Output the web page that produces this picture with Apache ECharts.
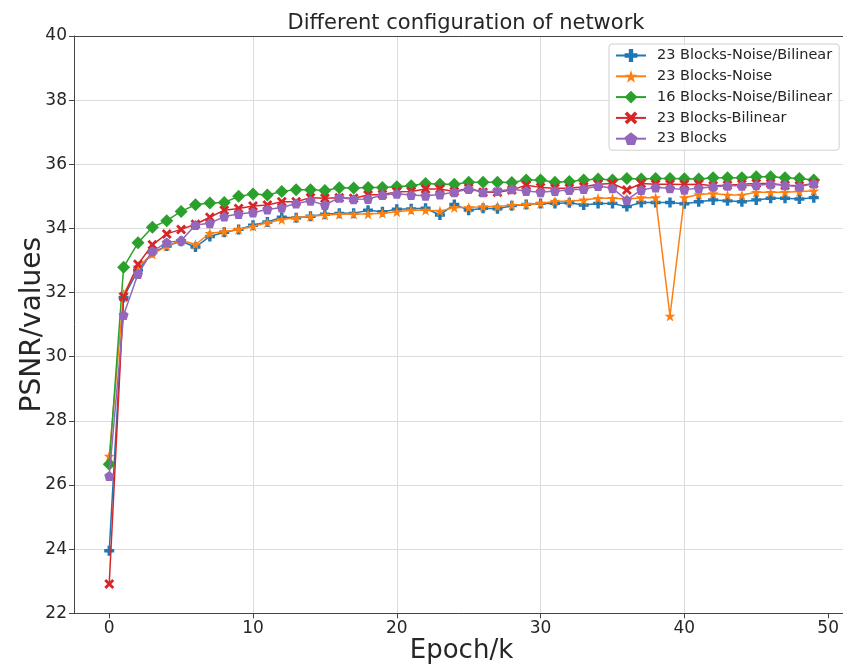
<!DOCTYPE html>
<html>
<head>
<meta charset="utf-8">
<script src="https://cdn.jsdelivr.net/npm/echarts@6/dist/echarts.min.js"></script>
<style>html,body{margin:0;padding:0;background:#fff}#c{width:843px;height:664px}</style>
</head>
<body>
<div id="c"></div>
<script>
var epochs = [];
for (var i = 0; i < 50; i++) epochs.push(i);

var seriesNames = ["23 Blocks-Noise/Bilinear", "23 Blocks-Noise", "16 Blocks-Noise/Bilinear", "23 Blocks-Bilinear", "23 Blocks"];

var blocks23NoiseBilinear = [23.95, 31.85, 32.70, 33.25, 33.45, 33.60, 33.42, 33.75, 33.88, 33.97,
  34.10, 34.20, 34.35, 34.33, 34.38, 34.44, 34.47, 34.47, 34.57, 34.52,
  34.60, 34.61, 34.63, 34.42, 34.75, 34.57, 34.63, 34.61, 34.71, 34.75,
  34.78, 34.78, 34.80, 34.73, 34.78, 34.78, 34.68, 34.81, 34.81, 34.81,
  34.77, 34.83, 34.89, 34.86, 34.83, 34.89, 34.94, 34.94, 34.92, 34.96];

var blocks23Noise = [26.90, 31.95, 32.80, 33.20, 33.45, 33.63, 33.50, 33.85, 33.90, 33.97,
  34.07, 34.18, 34.28, 34.33, 34.38, 34.42, 34.44, 34.45, 34.45, 34.47,
  34.52, 34.57, 34.57, 34.54, 34.65, 34.65, 34.68, 34.68, 34.73, 34.75,
  34.78, 34.85, 34.85, 34.89, 34.94, 34.94, 34.92, 34.96, 34.96, 31.27,
  34.96, 35.06, 35.09, 35.04, 35.04, 35.13, 35.13, 35.13, 35.15, 35.17];

var blocks16NoiseBilinear = [26.65, 32.79, 33.55, 34.04, 34.24, 34.53, 34.74, 34.79, 34.81, 35.00,
  35.07, 35.04, 35.15, 35.21, 35.21, 35.18, 35.27, 35.26, 35.28, 35.28,
  35.30, 35.33, 35.40, 35.38, 35.38, 35.44, 35.44, 35.44, 35.43, 35.51,
  35.51, 35.44, 35.46, 35.51, 35.54, 35.51, 35.56, 35.54, 35.56, 35.56,
  35.55, 35.54, 35.58, 35.58, 35.58, 35.61, 35.61, 35.58, 35.56, 35.51];

var blocks23Bilinear = [22.91, 31.87, 32.88, 33.49, 33.83, 33.97, 34.13, 34.35, 34.57, 34.62,
  34.70, 34.73, 34.83, 34.83, 34.96, 34.94, 34.96, 34.94, 35.04, 35.06,
  35.14, 35.15, 35.23, 35.23, 35.15, 35.25, 35.13, 35.13, 35.20, 35.35,
  35.28, 35.25, 35.25, 35.30, 35.38, 35.40, 35.20, 35.40, 35.38, 35.38,
  35.37, 35.38, 35.33, 35.35, 35.38, 35.40, 35.40, 35.35, 35.33, 35.40];

var blocks23 = [26.28, 31.30, 32.58, 33.29, 33.56, 33.62, 34.11, 34.16, 34.37, 34.45,
  34.50, 34.59, 34.65, 34.78, 34.86, 34.73, 34.96, 34.91, 34.92, 35.04,
  35.08, 35.04, 35.02, 35.06, 35.13, 35.23, 35.13, 35.17, 35.22, 35.17,
  35.13, 35.17, 35.20, 35.23, 35.32, 35.25, 34.89, 35.20, 35.28, 35.25,
  35.21, 35.25, 35.30, 35.33, 35.33, 35.35, 35.38, 35.35, 35.30, 35.40];

var xTicks = [0, 10, 20, 30, 40, 50];

var colors = ['#1f77b4', '#ff7f0e', '#2ca02c', '#d62728', '#9467bd'];
var symbols = [
  'path://M3.3,0 L6.7,0 L6.7,3.3 L10,3.3 L10,6.7 L6.7,6.7 L6.7,10 L3.3,10 L3.3,6.7 L0,6.7 L0,3.3 L3.3,3.3 Z',
  'path://M50,0 L61.2,34.6 L97.6,34.5 L68.1,55.9 L79.4,90.5 L50,69 L20.6,90.5 L31.9,55.9 L2.4,34.5 L38.8,34.6 Z',
  'diamond',
  'path://M0,2 L2,0 L5,3 L8,0 L10,2 L7,5 L10,8 L8,10 L5,7 L2,10 L0,8 L3,5 Z',
  'path://M50,0 L97.6,34.5 L79.4,90.5 L20.6,90.5 L2.4,34.5 Z'
];
var sizes = [10, 11, 13, 10, 10];
var dataSets = [blocks23NoiseBilinear, blocks23Noise, blocks16NoiseBilinear, blocks23Bilinear, blocks23];

var series = dataSets.map(function (d, k) {
  return {
    name: seriesNames[k],
    type: 'line',
    xAxisIndex: 0,
    data: d.map(function (v, i) { return [epochs[i], v]; }),
    symbol: symbols[k],
    symbolSize: sizes[k],
    showAllSymbol: true,
    lineStyle: { color: colors[k], width: 1.5 },
    itemStyle: { color: colors[k] },
    z: 2 + k
  };
});

var font = 'DejaVu Sans';
var chart = echarts.init(document.getElementById('c'), null, { renderer: 'canvas' });
chart.setOption({
  animation: false,
  backgroundColor: '#fff',
  color: colors,
  title: {
    text: 'Different configuration of network',
    left: 461, top: 8, textAlign: 'center',
    textStyle: { fontFamily: font, fontSize: 21, fontWeight: 'normal', color: '#262626' }
  },
  legend: {
    orient: 'vertical',
    left: 609, top: 44,
    padding: [4, 7, 4, 6],
    itemWidth: 30, itemHeight: 16, itemGap: 5.8,
    borderColor: '#d0d0d0', borderWidth: 1, borderRadius: 3,
    backgroundColor: 'rgba(255,255,255,0.8)',
    textStyle: { fontFamily: font, fontSize: 14.5, color: '#262626', padding: [0, 0, 0, 6] },
    data: seriesNames
  },
  grid: {
    left: 74, right: -6, top: 36, bottom: 50.7,
    outerBoundsMode: 'none', containLabel: false,
    show: false
  },
  xAxis: [{
    type: 'value', min: -2.45, max: 51.45,
    name: 'Epoch/k', nameLocation: 'middle', nameGap: 25, nameMoveOverlap: false,
    nameTextStyle: { fontFamily: font, fontSize: 26, color: '#262626' },
    axisLine: { show: true, onZero: false, lineStyle: { color: '#444', width: 1 } },
    axisTick: { show: true, length: 5, customValues: xTicks, lineStyle: { color: '#444' } },
    axisLabel: { customValues: xTicks, margin: 7, fontFamily: font, fontSize: 17, color: '#262626' },
    splitLine: { show: true, showMinLine: false, showMaxLine: false, lineStyle: { color: ['#dcdcdc'], width: 1 } }
  }, {
    type: 'value', position: 'top', min: -2.45, max: 51.45,
    axisLine: { show: true, onZero: false, lineStyle: { color: '#444', width: 1 } },
    axisTick: { show: false },
    axisLabel: { show: false },
    splitLine: { show: false }
  }],
  yAxis: {
    type: 'value', min: 22, max: 40, interval: 2,
    name: 'PSNR/values', nameLocation: 'middle', nameGap: 27, nameMoveOverlap: false,
    nameTextStyle: { fontFamily: font, fontSize: 28, color: '#262626' },
    axisLine: { show: true, onZero: false, lineStyle: { color: '#444', width: 1 } },
    axisTick: { show: true, length: 5, lineStyle: { color: '#444' } },
    axisLabel: { margin: 7, fontFamily: font, fontSize: 17, color: '#262626' },
    splitLine: { show: true, lineStyle: { color: ['#dcdcdc'], width: 1 } }
  },
  series: series
});
</script>
</body>
</html>
